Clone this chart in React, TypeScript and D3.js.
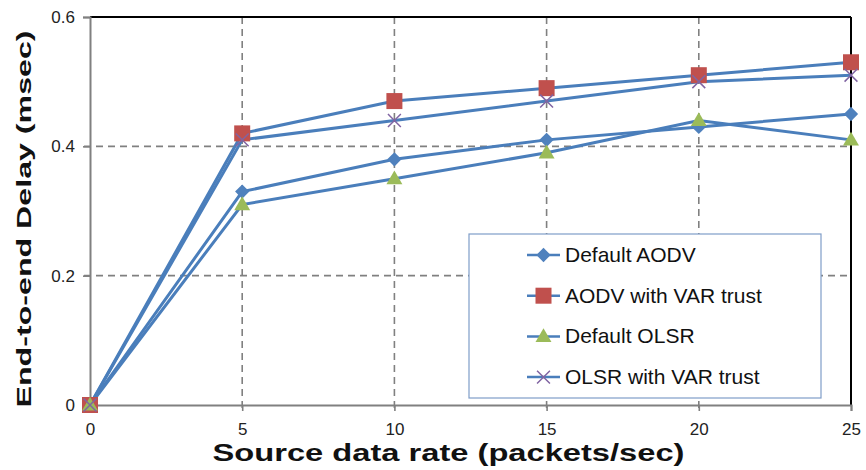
import React, { useRef, useEffect } from 'react';
import * as d3 from 'd3';

const rates = [0, 5, 10, 15, 20, 25];
const defaultAodv = [0, 0.33, 0.38, 0.41, 0.43, 0.45];
const aodvVar = [0, 0.42, 0.47, 0.49, 0.51, 0.53];
const defaultOlsr = [0, 0.31, 0.35, 0.39, 0.44, 0.41];
const olsrVar = [0, 0.41, 0.44, 0.47, 0.50, 0.51];
const yTicks = [0, 0.2, 0.4, 0.6];
const seriesNames = ['Default AODV', 'AODV with VAR trust', 'Default OLSR', 'OLSR with VAR trust'];

const LINE = '#4A7EBB';
const FONT = '"Liberation Sans", Arial, sans-serif';

const App: React.FC = () => {
  const svgRef = useRef<SVGSVGElement>(null);
  const width = 866;
  const height = 470;

  useEffect(() => {
    if (!svgRef.current) return;
    const svg = d3.select(svgRef.current);
    svg.selectAll('*').remove();

    const margin = { top: 17, right: 15, bottom: 65, left: 90 };
    const x = d3.scaleLinear().domain([0, 25]).range([margin.left, width - margin.right]);
    const y = d3.scaleLinear().domain([0, 0.6]).range([height - margin.bottom, margin.top]);

    svg.append('rect').attr('width', width).attr('height', height).attr('fill', '#fff');

    // grid
    rates.slice(1, -1).forEach(r => {
      svg.append('line')
        .attr('x1', x(r)).attr('x2', x(r))
        .attr('y1', y(0.6)).attr('y2', y(0) + 6)
        .attr('stroke', '#808080').attr('stroke-width', 1.6)
        .attr('stroke-dasharray', '7,5');
    });
    yTicks.slice(1, -1).forEach(v => {
      svg.append('line')
        .attr('x1', x(0) - 6).attr('x2', x(25))
        .attr('y1', y(v)).attr('y2', y(v))
        .attr('stroke', '#808080').attr('stroke-width', 1.6)
        .attr('stroke-dasharray', '7,5');
    });

    // frame: top and right black, axes grey
    svg.append('line').attr('x1', x(0)).attr('x2', x(25)).attr('y1', y(0.6)).attr('y2', y(0.6))
      .attr('stroke', '#000').attr('stroke-width', 2);
    svg.append('line').attr('x1', x(25)).attr('x2', x(25)).attr('y1', y(0.6)).attr('y2', y(0))
      .attr('stroke', '#000').attr('stroke-width', 2);

    const yAxis = svg.append('g')
      .attr('transform', `translate(${x(0)},0)`)
      .call(d3.axisLeft(y).tickValues(yTicks).tickSize(7).tickPadding(8)
        .tickFormat(d => (d === 0 ? '0' : d3.format('.1f')(d as number))));
    yAxis.select('.domain').attr('stroke', '#808080').attr('stroke-width', 2);
    yAxis.selectAll('.tick line').attr('stroke', '#808080').attr('stroke-width', 1.6);
    yAxis.selectAll('.tick text').attr('font-family', FONT).attr('font-size', 17).attr('fill', '#222');

    const xAxis = svg.append('g')
      .attr('transform', `translate(0,${y(0)})`)
      .call(d3.axisBottom(x).tickValues(rates).tickSize(6).tickPadding(12));
    xAxis.select('.domain').attr('stroke', '#808080').attr('stroke-width', 2);
    xAxis.selectAll('.tick line').attr('stroke', '#808080').attr('stroke-width', 1.6);
    xAxis.selectAll('.tick text').attr('font-family', FONT).attr('font-size', 17).attr('fill', '#222');

    // axis titles
    svg.append('text')
      .attr('x', (x(0) + x(25)) / 2 - 22).attr('y', 461)
      .attr('text-anchor', 'middle')
      .attr('font-family', FONT).attr('font-weight', 'bold').attr('font-size', 23)
      .attr('textLength', 472).attr('lengthAdjust', 'spacingAndGlyphs')
      .attr('fill', '#111')
      .text('Source data rate (packets/sec)');

    svg.append('text')
      .attr('transform', `translate(31,${(y(0) + y(0.6)) / 2 + 8}) rotate(-90)`)
      .attr('text-anchor', 'middle')
      .attr('font-family', FONT).attr('font-weight', 'bold').attr('font-size', 21)
      .attr('textLength', 377).attr('lengthAdjust', 'spacingAndGlyphs')
      .attr('fill', '#111')
      .text('End-to-end Delay (msec)');

    const series = [defaultAodv, aodvVar, defaultOlsr, olsrVar];
    const line = d3.line<number>().x((_, i) => x(rates[i])).y(d => y(d));

    series.forEach(vals => {
      svg.append('path').attr('d', line(vals) as string)
        .attr('fill', 'none').attr('stroke', LINE).attr('stroke-width', 3);
    });

    const drawMarker = (g: any, k: number, cx: number, cy: number) => {
      if (k === 0) {
        g.append('path').attr('d', d3.symbol().type(d3.symbolDiamond2).size(130)() as string)
          .attr('transform', `translate(${cx},${cy})`).attr('fill', '#4F81BD');
      } else if (k === 1) {
        g.append('rect').attr('x', cx - 8).attr('y', cy - 8).attr('width', 16).attr('height', 16)
          .attr('fill', '#C0504D');
      } else if (k === 2) {
        g.append('path').attr('d', d3.symbol().type(d3.symbolTriangle).size(110)() as string)
          .attr('transform', `translate(${cx},${cy + 1})`).attr('fill', '#9BBB59');
      } else {
        g.append('path').attr('d', d3.symbol().type(d3.symbolTimes).size(110)() as string)
          .attr('transform', `translate(${cx},${cy})`).attr('fill', 'none')
          .attr('stroke', '#8064A2').attr('stroke-width', 1.5);
      }
    };

    const mg = svg.append('g');
    series.forEach((vals, k) => {
      vals.forEach((v, i) => drawMarker(mg, k, x(rates[i]), y(v)));
    });

    // legend
    const lg = svg.append('g');
    lg.append('rect').attr('x', 469).attr('y', 234).attr('width', 352).attr('height', 164)
      .attr('fill', '#fff').attr('stroke', '#7F9DC8').attr('stroke-width', 1.2);
    seriesNames.forEach((name, k) => {
      const ry = 255 + k * 40.7;
      lg.append('line').attr('x1', 527).attr('x2', 560).attr('y1', ry).attr('y2', ry)
        .attr('stroke', LINE).attr('stroke-width', 2.5);
      drawMarker(lg, k, 543.5, ry);
      lg.append('text').attr('x', 565).attr('y', ry + 7)
        .attr('font-family', FONT).attr('font-size', 21).attr('fill', '#111')
        .text(name);
    });
  }, []);

  return (
    <svg
      ref={svgRef}
      width={width}
      height={height}
      style={{ position: 'absolute', left: 0, top: 0, display: 'block' }}
    />
  );
};

export default App;
